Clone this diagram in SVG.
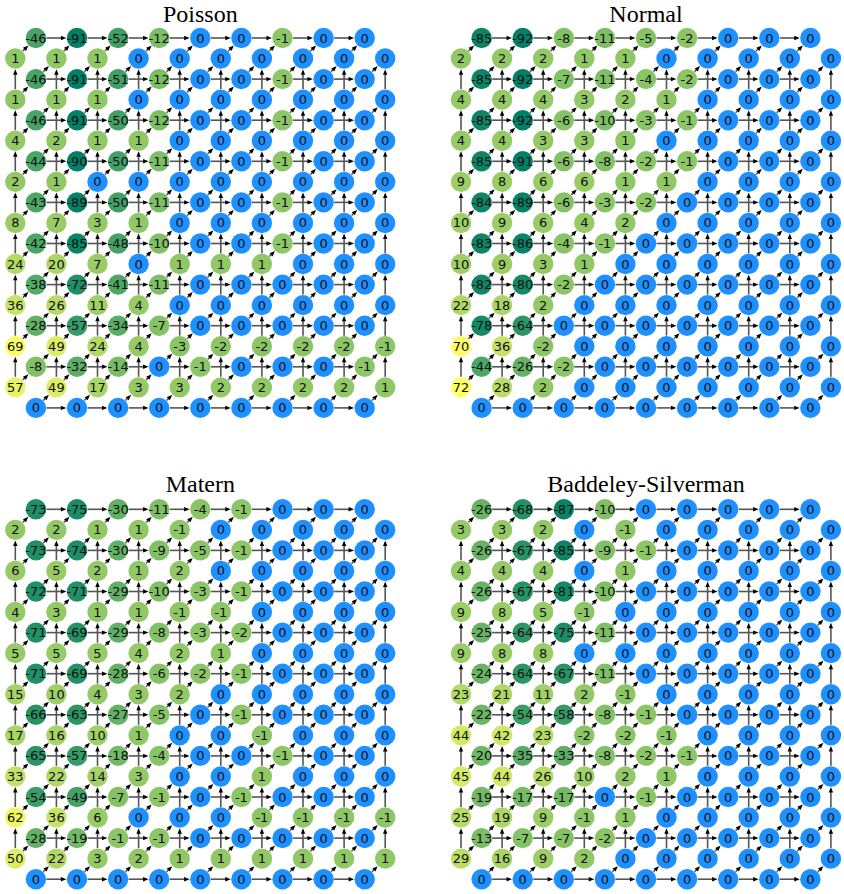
<svg xmlns="http://www.w3.org/2000/svg" xmlns:xlink="http://www.w3.org/1999/xlink" width="844" height="894" viewBox="0 0 844 894">
<style>
text{font-family:"DejaVu Sans","Liberation Sans",sans-serif;font-size:13px;text-anchor:middle;dominant-baseline:central;fill:#111}
text.t{font-family:"Liberation Serif","DejaVu Serif",serif;font-size:24px;dominant-baseline:auto;fill:#000}
circle{r:10.2px;stroke:none}
.z{fill:#1e90ff}
.m1{fill:#8dc666}.m2{fill:#8cc566}.m3{fill:#8ac566}.m4{fill:#89c466}.m5{fill:#87c366}.m6{fill:#86c266}.m7{fill:#84c266}.m8{fill:#83c166}.m9{fill:#81c066}.m10{fill:#80bf66}.m11{fill:#7ebe66}.m12{fill:#7cbe66}.m13{fill:#7bbd66}.m14{fill:#79bc66}.m17{fill:#75ba66}.m18{fill:#73b966}.m19{fill:#72b866}.m20{fill:#70b766}.m22{fill:#6db666}.m24{fill:#6ab466}.m25{fill:#68b466}.m26{fill:#67b366}.m27{fill:#65b266}.m28{fill:#64b166}.m29{fill:#62b066}.m30{fill:#60b066}.m32{fill:#5dae66}.m33{fill:#5cad66}.m34{fill:#5aad66}.m35{fill:#59ac66}.m38{fill:#54aa66}.m41{fill:#4fa766}.m42{fill:#4ea666}.m43{fill:#4ca666}.m44{fill:#4ba566}.m46{fill:#48a366}.m48{fill:#44a266}.m49{fill:#43a166}.m50{fill:#41a066}.m51{fill:#409f66}.m52{fill:#3e9f66}.m54{fill:#3b9d66}.m57{fill:#369b66}.m58{fill:#359a66}.m63{fill:#2d9666}.m64{fill:#2c9566}.m65{fill:#2a9466}.m66{fill:#289466}.m67{fill:#279366}.m68{fill:#259266}.m69{fill:#249166}.m71{fill:#219066}.m72{fill:#1f8f66}.m73{fill:#1e8e66}.m74{fill:#1c8d66}.m75{fill:#1a8d66}.m78{fill:#168a66}.m80{fill:#138966}.m81{fill:#118866}.m82{fill:#108766}.m83{fill:#0e8666}.m84{fill:#0c8666}.m85{fill:#0b8566}.m86{fill:#098466}.m87{fill:#088366}.m89{fill:#058266}.m90{fill:#038166}.m91{fill:#028066}.m92{fill:#008066}
.p1{fill:#91c866}.p2{fill:#92c966}.p3{fill:#94c966}.p4{fill:#95ca66}.p5{fill:#97cb66}.p6{fill:#98cc66}.p7{fill:#9acc66}.p8{fill:#9bcd66}.p9{fill:#9dce66}.p10{fill:#9fcf66}.p11{fill:#a0d066}.p14{fill:#a5d266}.p15{fill:#a6d366}.p16{fill:#a8d366}.p17{fill:#a9d466}.p18{fill:#abd566}.p19{fill:#add666}.p20{fill:#aed766}.p21{fill:#b0d766}.p22{fill:#b1d866}.p23{fill:#b3d966}.p24{fill:#b4da66}.p25{fill:#b6da66}.p26{fill:#b7db66}.p28{fill:#bbdd66}.p29{fill:#bcde66}.p33{fill:#c2e166}.p36{fill:#c7e366}.p42{fill:#d0e866}.p44{fill:#d3e966}.p45{fill:#d5ea66}.p49{fill:#dbed66}.p50{fill:#ddee66}.p57{fill:#e8f366}.p62{fill:#eff766}.p69{fill:#fafd66}.p70{fill:#fcfd66}.p72{fill:#ffff66}
</style>
<defs>
<marker id="ah" markerUnits="userSpaceOnUse" markerWidth="6" markerHeight="5" refX="0.7" refY="2.2" orient="auto" overflow="visible"><path d="M0,0L5.5,2.2L0,4.4z" fill="#000"/></marker>
<line id="eh" x1="10.6" y1="0" x2="25.7" y2="0" stroke="#555" stroke-width="1.6" marker-end="url(#ah)"/>
<line id="ev" x1="0" y1="-10.6" x2="0" y2="-25.7" stroke="#555" stroke-width="1.6" marker-end="url(#ah)"/>
<line id="ed" x1="7.5" y1="-7.5" x2="9.66" y2="-9.66" stroke="#555" stroke-width="1.6" marker-end="url(#ah)"/>
<g id="H"><use href="#eh" x="20.55"/><use href="#eh" x="61.65"/><use href="#eh" x="102.75"/><use href="#eh" x="143.85"/><use href="#eh" x="184.95"/><use href="#eh" x="226.05"/><use href="#eh" x="267.15"/><use href="#eh" x="308.25"/></g>
<g id="V"><use href="#ev" y="61.65"/><use href="#ev" y="102.75"/><use href="#ev" y="143.85"/><use href="#ev" y="184.95"/><use href="#ev" y="226.05"/><use href="#ev" y="267.15"/><use href="#ev" y="308.25"/><use href="#ev" y="349.35"/></g>
<g id="D"><use href="#ed" x="0"/><use href="#ed" x="41.1"/><use href="#ed" x="82.2"/><use href="#ed" x="123.3"/><use href="#ed" x="164.4"/><use href="#ed" x="205.5"/><use href="#ed" x="246.6"/><use href="#ed" x="287.7"/><use href="#ed" x="328.8"/></g>
<g id="E">
<use href="#H" y="0"/><use href="#H" y="41.1"/><use href="#H" y="82.2"/><use href="#H" y="123.3"/><use href="#H" y="164.4"/><use href="#H" y="205.5"/><use href="#H" y="246.6"/><use href="#H" y="287.7"/><use href="#H" y="328.8"/><use href="#H" y="369.9"/>
<use href="#V" x="0"/><use href="#V" x="41.1"/><use href="#V" x="82.2"/><use href="#V" x="123.3"/><use href="#V" x="164.4"/><use href="#V" x="205.5"/><use href="#V" x="246.6"/><use href="#V" x="287.7"/><use href="#V" x="328.8"/><use href="#V" x="369.9"/>
<use href="#D" y="20.55"/><use href="#D" y="61.65"/><use href="#D" y="102.75"/><use href="#D" y="143.85"/><use href="#D" y="184.95"/><use href="#D" y="226.05"/><use href="#D" y="267.15"/><use href="#D" y="308.25"/><use href="#D" y="349.35"/>
<use href="#D" x="20.55" y="41.1"/><use href="#D" x="20.55" y="82.2"/><use href="#D" x="20.55" y="123.3"/><use href="#D" x="20.55" y="164.4"/><use href="#D" x="20.55" y="205.5"/><use href="#D" x="20.55" y="246.6"/><use href="#D" x="20.55" y="287.7"/><use href="#D" x="20.55" y="328.8"/><use href="#D" x="20.55" y="369.9"/>
</g>
</defs>
<rect width="844" height="894" fill="#fff"/>
<g id="titles">
<text class="t" x="200.3" y="21.8">Poisson</text>
<text class="t" x="646" y="21.8">Normal</text>
<text class="t" x="200.3" y="491.5">Matern</text>
<text class="t" x="646" y="491.5">Baddeley-Silverman</text>
</g>
<g id="connectors">
<use href="#E" x="15.3" y="38"/>
<use href="#E" x="461" y="38"/>
<use href="#E" x="15.3" y="509.3"/>
<use href="#E" x="461" y="509.3"/>
</g>
<g id="poisson" transform="translate(15.3,38)">
<g transform="translate(0,0)"><g id="Pa0_0"><circle class="m46" cx="20.6"/><text x="20.6">-46</text></g><g id="Pa0_1"><circle class="m91" cx="61.7"/><text x="61.7">-91</text></g><g id="Pa0_2"><circle class="m52" cx="102.8"/><text x="102.8">-52</text></g><g id="Pa0_3"><circle class="m12" cx="143.9"/><text x="143.9">-12</text></g><g id="Pa0_4"><circle class="z" cx="185"/><text x="185">0</text></g><g id="Pa0_5"><circle class="z" cx="226.1"/><text x="226.1">0</text></g><g id="Pa0_6"><circle class="m1" cx="267.2"/><text x="267.2">-1</text></g><g id="Pa0_7"><circle class="z" cx="308.3"/><text x="308.3">0</text></g><g id="Pa0_8"><circle class="z" cx="349.4"/><text x="349.4">0</text></g></g>
<g transform="translate(0,20.55)"><g id="Pb0_0"><circle class="p1" cx="0"/><text x="0">1</text></g><g id="Pb0_1"><circle class="p1" cx="41.1"/><text x="41.1">1</text></g><g id="Pb0_2"><circle class="p1" cx="82.2"/><text x="82.2">1</text></g><g id="Pb0_3"><circle class="z" cx="123.3"/><text x="123.3">0</text></g><g id="Pb0_4"><circle class="z" cx="164.4"/><text x="164.4">0</text></g><g id="Pb0_5"><circle class="z" cx="205.5"/><text x="205.5">0</text></g><g id="Pb0_6"><circle class="z" cx="246.6"/><text x="246.6">0</text></g><g id="Pb0_7"><circle class="z" cx="287.7"/><text x="287.7">0</text></g><g id="Pb0_8"><circle class="z" cx="328.8"/><text x="328.8">0</text></g><g id="Pb0_9"><circle class="z" cx="369.9"/><text x="369.9">0</text></g></g>
<g transform="translate(0,41.1)"><g id="Pa1_0"><circle class="m46" cx="20.6"/><text x="20.6">-46</text></g><g id="Pa1_1"><circle class="m91" cx="61.7"/><text x="61.7">-91</text></g><g id="Pa1_2"><circle class="m51" cx="102.8"/><text x="102.8">-51</text></g><g id="Pa1_3"><circle class="m12" cx="143.9"/><text x="143.9">-12</text></g><g id="Pa1_4"><circle class="z" cx="185"/><text x="185">0</text></g><g id="Pa1_5"><circle class="z" cx="226.1"/><text x="226.1">0</text></g><g id="Pa1_6"><circle class="m1" cx="267.2"/><text x="267.2">-1</text></g><g id="Pa1_7"><circle class="z" cx="308.3"/><text x="308.3">0</text></g><g id="Pa1_8"><circle class="z" cx="349.4"/><text x="349.4">0</text></g></g>
<g transform="translate(0,61.65)"><g id="Pb1_0"><circle class="p1" cx="0"/><text x="0">1</text></g><g id="Pb1_1"><circle class="p1" cx="41.1"/><text x="41.1">1</text></g><g id="Pb1_2"><circle class="p1" cx="82.2"/><text x="82.2">1</text></g><g id="Pb1_3"><circle class="z" cx="123.3"/><text x="123.3">0</text></g><g id="Pb1_4"><circle class="z" cx="164.4"/><text x="164.4">0</text></g><g id="Pb1_5"><circle class="z" cx="205.5"/><text x="205.5">0</text></g><g id="Pb1_6"><circle class="z" cx="246.6"/><text x="246.6">0</text></g><g id="Pb1_7"><circle class="z" cx="287.7"/><text x="287.7">0</text></g><g id="Pb1_8"><circle class="z" cx="328.8"/><text x="328.8">0</text></g><g id="Pb1_9"><circle class="z" cx="369.9"/><text x="369.9">0</text></g></g>
<g transform="translate(0,82.2)"><g id="Pa2_0"><circle class="m46" cx="20.6"/><text x="20.6">-46</text></g><g id="Pa2_1"><circle class="m91" cx="61.7"/><text x="61.7">-91</text></g><g id="Pa2_2"><circle class="m50" cx="102.8"/><text x="102.8">-50</text></g><g id="Pa2_3"><circle class="m12" cx="143.9"/><text x="143.9">-12</text></g><g id="Pa2_4"><circle class="z" cx="185"/><text x="185">0</text></g><g id="Pa2_5"><circle class="z" cx="226.1"/><text x="226.1">0</text></g><g id="Pa2_6"><circle class="m1" cx="267.2"/><text x="267.2">-1</text></g><g id="Pa2_7"><circle class="z" cx="308.3"/><text x="308.3">0</text></g><g id="Pa2_8"><circle class="z" cx="349.4"/><text x="349.4">0</text></g></g>
<g transform="translate(0,102.75)"><g id="Pb2_0"><circle class="p4" cx="0"/><text x="0">4</text></g><g id="Pb2_1"><circle class="p2" cx="41.1"/><text x="41.1">2</text></g><g id="Pb2_2"><circle class="p1" cx="82.2"/><text x="82.2">1</text></g><g id="Pb2_3"><circle class="p1" cx="123.3"/><text x="123.3">1</text></g><g id="Pb2_4"><circle class="z" cx="164.4"/><text x="164.4">0</text></g><g id="Pb2_5"><circle class="z" cx="205.5"/><text x="205.5">0</text></g><g id="Pb2_6"><circle class="z" cx="246.6"/><text x="246.6">0</text></g><g id="Pb2_7"><circle class="z" cx="287.7"/><text x="287.7">0</text></g><g id="Pb2_8"><circle class="z" cx="328.8"/><text x="328.8">0</text></g><g id="Pb2_9"><circle class="z" cx="369.9"/><text x="369.9">0</text></g></g>
<g transform="translate(0,123.3)"><g id="Pa3_0"><circle class="m44" cx="20.6"/><text x="20.6">-44</text></g><g id="Pa3_1"><circle class="m90" cx="61.7"/><text x="61.7">-90</text></g><g id="Pa3_2"><circle class="m50" cx="102.8"/><text x="102.8">-50</text></g><g id="Pa3_3"><circle class="m11" cx="143.9"/><text x="143.9">-11</text></g><g id="Pa3_4"><circle class="z" cx="185"/><text x="185">0</text></g><g id="Pa3_5"><circle class="z" cx="226.1"/><text x="226.1">0</text></g><g id="Pa3_6"><circle class="m1" cx="267.2"/><text x="267.2">-1</text></g><g id="Pa3_7"><circle class="z" cx="308.3"/><text x="308.3">0</text></g><g id="Pa3_8"><circle class="z" cx="349.4"/><text x="349.4">0</text></g></g>
<g transform="translate(0,143.85)"><g id="Pb3_0"><circle class="p2" cx="0"/><text x="0">2</text></g><g id="Pb3_1"><circle class="p1" cx="41.1"/><text x="41.1">1</text></g><g id="Pb3_2"><circle class="z" cx="82.2"/><text x="82.2">0</text></g><g id="Pb3_3"><circle class="z" cx="123.3"/><text x="123.3">0</text></g><g id="Pb3_4"><circle class="z" cx="164.4"/><text x="164.4">0</text></g><g id="Pb3_5"><circle class="z" cx="205.5"/><text x="205.5">0</text></g><g id="Pb3_6"><circle class="z" cx="246.6"/><text x="246.6">0</text></g><g id="Pb3_7"><circle class="z" cx="287.7"/><text x="287.7">0</text></g><g id="Pb3_8"><circle class="z" cx="328.8"/><text x="328.8">0</text></g><g id="Pb3_9"><circle class="z" cx="369.9"/><text x="369.9">0</text></g></g>
<g transform="translate(0,164.4)"><g id="Pa4_0"><circle class="m43" cx="20.6"/><text x="20.6">-43</text></g><g id="Pa4_1"><circle class="m89" cx="61.7"/><text x="61.7">-89</text></g><g id="Pa4_2"><circle class="m50" cx="102.8"/><text x="102.8">-50</text></g><g id="Pa4_3"><circle class="m11" cx="143.9"/><text x="143.9">-11</text></g><g id="Pa4_4"><circle class="z" cx="185"/><text x="185">0</text></g><g id="Pa4_5"><circle class="z" cx="226.1"/><text x="226.1">0</text></g><g id="Pa4_6"><circle class="m1" cx="267.2"/><text x="267.2">-1</text></g><g id="Pa4_7"><circle class="z" cx="308.3"/><text x="308.3">0</text></g><g id="Pa4_8"><circle class="z" cx="349.4"/><text x="349.4">0</text></g></g>
<g transform="translate(0,184.95)"><g id="Pb4_0"><circle class="p8" cx="0"/><text x="0">8</text></g><g id="Pb4_1"><circle class="p7" cx="41.1"/><text x="41.1">7</text></g><g id="Pb4_2"><circle class="p3" cx="82.2"/><text x="82.2">3</text></g><g id="Pb4_3"><circle class="p1" cx="123.3"/><text x="123.3">1</text></g><g id="Pb4_4"><circle class="z" cx="164.4"/><text x="164.4">0</text></g><g id="Pb4_5"><circle class="z" cx="205.5"/><text x="205.5">0</text></g><g id="Pb4_6"><circle class="z" cx="246.6"/><text x="246.6">0</text></g><g id="Pb4_7"><circle class="z" cx="287.7"/><text x="287.7">0</text></g><g id="Pb4_8"><circle class="z" cx="328.8"/><text x="328.8">0</text></g><g id="Pb4_9"><circle class="z" cx="369.9"/><text x="369.9">0</text></g></g>
<g transform="translate(0,205.5)"><g id="Pa5_0"><circle class="m42" cx="20.6"/><text x="20.6">-42</text></g><g id="Pa5_1"><circle class="m85" cx="61.7"/><text x="61.7">-85</text></g><g id="Pa5_2"><circle class="m48" cx="102.8"/><text x="102.8">-48</text></g><g id="Pa5_3"><circle class="m10" cx="143.9"/><text x="143.9">-10</text></g><g id="Pa5_4"><circle class="z" cx="185"/><text x="185">0</text></g><g id="Pa5_5"><circle class="z" cx="226.1"/><text x="226.1">0</text></g><g id="Pa5_6"><circle class="m1" cx="267.2"/><text x="267.2">-1</text></g><g id="Pa5_7"><circle class="z" cx="308.3"/><text x="308.3">0</text></g><g id="Pa5_8"><circle class="z" cx="349.4"/><text x="349.4">0</text></g></g>
<g transform="translate(0,226.05)"><g id="Pb5_0"><circle class="p24" cx="0"/><text x="0">24</text></g><g id="Pb5_1"><circle class="p20" cx="41.1"/><text x="41.1">20</text></g><g id="Pb5_2"><circle class="p7" cx="82.2"/><text x="82.2">7</text></g><g id="Pb5_3"><circle class="z" cx="123.3"/><text x="123.3">0</text></g><g id="Pb5_4"><circle class="p1" cx="164.4"/><text x="164.4">1</text></g><g id="Pb5_5"><circle class="p1" cx="205.5"/><text x="205.5">1</text></g><g id="Pb5_6"><circle class="p1" cx="246.6"/><text x="246.6">1</text></g><g id="Pb5_7"><circle class="z" cx="287.7"/><text x="287.7">0</text></g><g id="Pb5_8"><circle class="z" cx="328.8"/><text x="328.8">0</text></g><g id="Pb5_9"><circle class="z" cx="369.9"/><text x="369.9">0</text></g></g>
<g transform="translate(0,246.6)"><g id="Pa6_0"><circle class="m38" cx="20.6"/><text x="20.6">-38</text></g><g id="Pa6_1"><circle class="m72" cx="61.7"/><text x="61.7">-72</text></g><g id="Pa6_2"><circle class="m41" cx="102.8"/><text x="102.8">-41</text></g><g id="Pa6_3"><circle class="m11" cx="143.9"/><text x="143.9">-11</text></g><g id="Pa6_4"><circle class="z" cx="185"/><text x="185">0</text></g><g id="Pa6_5"><circle class="z" cx="226.1"/><text x="226.1">0</text></g><g id="Pa6_6"><circle class="z" cx="267.2"/><text x="267.2">0</text></g><g id="Pa6_7"><circle class="z" cx="308.3"/><text x="308.3">0</text></g><g id="Pa6_8"><circle class="z" cx="349.4"/><text x="349.4">0</text></g></g>
<g transform="translate(0,267.15)"><g id="Pb6_0"><circle class="p36" cx="0"/><text x="0">36</text></g><g id="Pb6_1"><circle class="p26" cx="41.1"/><text x="41.1">26</text></g><g id="Pb6_2"><circle class="p11" cx="82.2"/><text x="82.2">11</text></g><g id="Pb6_3"><circle class="p4" cx="123.3"/><text x="123.3">4</text></g><g id="Pb6_4"><circle class="z" cx="164.4"/><text x="164.4">0</text></g><g id="Pb6_5"><circle class="z" cx="205.5"/><text x="205.5">0</text></g><g id="Pb6_6"><circle class="z" cx="246.6"/><text x="246.6">0</text></g><g id="Pb6_7"><circle class="z" cx="287.7"/><text x="287.7">0</text></g><g id="Pb6_8"><circle class="z" cx="328.8"/><text x="328.8">0</text></g><g id="Pb6_9"><circle class="z" cx="369.9"/><text x="369.9">0</text></g></g>
<g transform="translate(0,287.7)"><g id="Pa7_0"><circle class="m28" cx="20.6"/><text x="20.6">-28</text></g><g id="Pa7_1"><circle class="m57" cx="61.7"/><text x="61.7">-57</text></g><g id="Pa7_2"><circle class="m34" cx="102.8"/><text x="102.8">-34</text></g><g id="Pa7_3"><circle class="m7" cx="143.9"/><text x="143.9">-7</text></g><g id="Pa7_4"><circle class="z" cx="185"/><text x="185">0</text></g><g id="Pa7_5"><circle class="z" cx="226.1"/><text x="226.1">0</text></g><g id="Pa7_6"><circle class="z" cx="267.2"/><text x="267.2">0</text></g><g id="Pa7_7"><circle class="z" cx="308.3"/><text x="308.3">0</text></g><g id="Pa7_8"><circle class="z" cx="349.4"/><text x="349.4">0</text></g></g>
<g transform="translate(0,308.25)"><g id="Pb7_0"><circle class="p69" cx="0"/><text x="0">69</text></g><g id="Pb7_1"><circle class="p49" cx="41.1"/><text x="41.1">49</text></g><g id="Pb7_2"><circle class="p24" cx="82.2"/><text x="82.2">24</text></g><g id="Pb7_3"><circle class="p4" cx="123.3"/><text x="123.3">4</text></g><g id="Pb7_4"><circle class="m3" cx="164.4"/><text x="164.4">-3</text></g><g id="Pb7_5"><circle class="m2" cx="205.5"/><text x="205.5">-2</text></g><g id="Pb7_6"><circle class="m2" cx="246.6"/><text x="246.6">-2</text></g><g id="Pb7_7"><circle class="m2" cx="287.7"/><text x="287.7">-2</text></g><g id="Pb7_8"><circle class="m2" cx="328.8"/><text x="328.8">-2</text></g><g id="Pb7_9"><circle class="m1" cx="369.9"/><text x="369.9">-1</text></g></g>
<g transform="translate(0,328.8)"><g id="Pa8_0"><circle class="m8" cx="20.6"/><text x="20.6">-8</text></g><g id="Pa8_1"><circle class="m32" cx="61.7"/><text x="61.7">-32</text></g><g id="Pa8_2"><circle class="m14" cx="102.8"/><text x="102.8">-14</text></g><g id="Pa8_3"><circle class="z" cx="143.9"/><text x="143.9">0</text></g><g id="Pa8_4"><circle class="m1" cx="185"/><text x="185">-1</text></g><g id="Pa8_5"><circle class="z" cx="226.1"/><text x="226.1">0</text></g><g id="Pa8_6"><circle class="z" cx="267.2"/><text x="267.2">0</text></g><g id="Pa8_7"><circle class="z" cx="308.3"/><text x="308.3">0</text></g><g id="Pa8_8"><circle class="m1" cx="349.4"/><text x="349.4">-1</text></g></g>
<g transform="translate(0,349.35)"><g id="Pb8_0"><circle class="p57" cx="0"/><text x="0">57</text></g><g id="Pb8_1"><circle class="p49" cx="41.1"/><text x="41.1">49</text></g><g id="Pb8_2"><circle class="p17" cx="82.2"/><text x="82.2">17</text></g><g id="Pb8_3"><circle class="p3" cx="123.3"/><text x="123.3">3</text></g><g id="Pb8_4"><circle class="p3" cx="164.4"/><text x="164.4">3</text></g><g id="Pb8_5"><circle class="p2" cx="205.5"/><text x="205.5">2</text></g><g id="Pb8_6"><circle class="p2" cx="246.6"/><text x="246.6">2</text></g><g id="Pb8_7"><circle class="p2" cx="287.7"/><text x="287.7">2</text></g><g id="Pb8_8"><circle class="p2" cx="328.8"/><text x="328.8">2</text></g><g id="Pb8_9"><circle class="p1" cx="369.9"/><text x="369.9">1</text></g></g>
<g transform="translate(0,369.9)"><g id="Pa9_0"><circle class="z" cx="20.6"/><text x="20.6">0</text></g><g id="Pa9_1"><circle class="z" cx="61.7"/><text x="61.7">0</text></g><g id="Pa9_2"><circle class="z" cx="102.8"/><text x="102.8">0</text></g><g id="Pa9_3"><circle class="z" cx="143.9"/><text x="143.9">0</text></g><g id="Pa9_4"><circle class="z" cx="185"/><text x="185">0</text></g><g id="Pa9_5"><circle class="z" cx="226.1"/><text x="226.1">0</text></g><g id="Pa9_6"><circle class="z" cx="267.2"/><text x="267.2">0</text></g><g id="Pa9_7"><circle class="z" cx="308.3"/><text x="308.3">0</text></g><g id="Pa9_8"><circle class="z" cx="349.4"/><text x="349.4">0</text></g></g>
</g>
<g id="normal" transform="translate(461,38)">
<g transform="translate(0,0)"><g id="Na0_0"><circle class="m85" cx="20.6"/><text x="20.6">-85</text></g><g id="Na0_1"><circle class="m92" cx="61.7"/><text x="61.7">-92</text></g><g id="Na0_2"><circle class="m8" cx="102.8"/><text x="102.8">-8</text></g><g id="Na0_3"><circle class="m11" cx="143.9"/><text x="143.9">-11</text></g><g id="Na0_4"><circle class="m5" cx="185"/><text x="185">-5</text></g><g id="Na0_5"><circle class="m2" cx="226.1"/><text x="226.1">-2</text></g><g id="Na0_6"><circle class="z" cx="267.2"/><text x="267.2">0</text></g><g id="Na0_7"><circle class="z" cx="308.3"/><text x="308.3">0</text></g><g id="Na0_8"><circle class="z" cx="349.4"/><text x="349.4">0</text></g></g>
<g transform="translate(0,20.55)"><g id="Nb0_0"><circle class="p2" cx="0"/><text x="0">2</text></g><g id="Nb0_1"><circle class="p2" cx="41.1"/><text x="41.1">2</text></g><g id="Nb0_2"><circle class="p2" cx="82.2"/><text x="82.2">2</text></g><g id="Nb0_3"><circle class="p1" cx="123.3"/><text x="123.3">1</text></g><g id="Nb0_4"><circle class="p1" cx="164.4"/><text x="164.4">1</text></g><g id="Nb0_5"><circle class="z" cx="205.5"/><text x="205.5">0</text></g><g id="Nb0_6"><circle class="z" cx="246.6"/><text x="246.6">0</text></g><g id="Nb0_7"><circle class="z" cx="287.7"/><text x="287.7">0</text></g><g id="Nb0_8"><circle class="z" cx="328.8"/><text x="328.8">0</text></g><g id="Nb0_9"><circle class="z" cx="369.9"/><text x="369.9">0</text></g></g>
<g transform="translate(0,41.1)"><g id="Na1_0"><circle class="m85" cx="20.6"/><text x="20.6">-85</text></g><g id="Na1_1"><circle class="m92" cx="61.7"/><text x="61.7">-92</text></g><g id="Na1_2"><circle class="m7" cx="102.8"/><text x="102.8">-7</text></g><g id="Na1_3"><circle class="m11" cx="143.9"/><text x="143.9">-11</text></g><g id="Na1_4"><circle class="m4" cx="185"/><text x="185">-4</text></g><g id="Na1_5"><circle class="m2" cx="226.1"/><text x="226.1">-2</text></g><g id="Na1_6"><circle class="z" cx="267.2"/><text x="267.2">0</text></g><g id="Na1_7"><circle class="z" cx="308.3"/><text x="308.3">0</text></g><g id="Na1_8"><circle class="z" cx="349.4"/><text x="349.4">0</text></g></g>
<g transform="translate(0,61.65)"><g id="Nb1_0"><circle class="p4" cx="0"/><text x="0">4</text></g><g id="Nb1_1"><circle class="p4" cx="41.1"/><text x="41.1">4</text></g><g id="Nb1_2"><circle class="p4" cx="82.2"/><text x="82.2">4</text></g><g id="Nb1_3"><circle class="p3" cx="123.3"/><text x="123.3">3</text></g><g id="Nb1_4"><circle class="p2" cx="164.4"/><text x="164.4">2</text></g><g id="Nb1_5"><circle class="p1" cx="205.5"/><text x="205.5">1</text></g><g id="Nb1_6"><circle class="z" cx="246.6"/><text x="246.6">0</text></g><g id="Nb1_7"><circle class="z" cx="287.7"/><text x="287.7">0</text></g><g id="Nb1_8"><circle class="z" cx="328.8"/><text x="328.8">0</text></g><g id="Nb1_9"><circle class="z" cx="369.9"/><text x="369.9">0</text></g></g>
<g transform="translate(0,82.2)"><g id="Na2_0"><circle class="m85" cx="20.6"/><text x="20.6">-85</text></g><g id="Na2_1"><circle class="m92" cx="61.7"/><text x="61.7">-92</text></g><g id="Na2_2"><circle class="m6" cx="102.8"/><text x="102.8">-6</text></g><g id="Na2_3"><circle class="m10" cx="143.9"/><text x="143.9">-10</text></g><g id="Na2_4"><circle class="m3" cx="185"/><text x="185">-3</text></g><g id="Na2_5"><circle class="m1" cx="226.1"/><text x="226.1">-1</text></g><g id="Na2_6"><circle class="z" cx="267.2"/><text x="267.2">0</text></g><g id="Na2_7"><circle class="z" cx="308.3"/><text x="308.3">0</text></g><g id="Na2_8"><circle class="z" cx="349.4"/><text x="349.4">0</text></g></g>
<g transform="translate(0,102.75)"><g id="Nb2_0"><circle class="p4" cx="0"/><text x="0">4</text></g><g id="Nb2_1"><circle class="p4" cx="41.1"/><text x="41.1">4</text></g><g id="Nb2_2"><circle class="p3" cx="82.2"/><text x="82.2">3</text></g><g id="Nb2_3"><circle class="p3" cx="123.3"/><text x="123.3">3</text></g><g id="Nb2_4"><circle class="p1" cx="164.4"/><text x="164.4">1</text></g><g id="Nb2_5"><circle class="z" cx="205.5"/><text x="205.5">0</text></g><g id="Nb2_6"><circle class="z" cx="246.6"/><text x="246.6">0</text></g><g id="Nb2_7"><circle class="z" cx="287.7"/><text x="287.7">0</text></g><g id="Nb2_8"><circle class="z" cx="328.8"/><text x="328.8">0</text></g><g id="Nb2_9"><circle class="z" cx="369.9"/><text x="369.9">0</text></g></g>
<g transform="translate(0,123.3)"><g id="Na3_0"><circle class="m85" cx="20.6"/><text x="20.6">-85</text></g><g id="Na3_1"><circle class="m91" cx="61.7"/><text x="61.7">-91</text></g><g id="Na3_2"><circle class="m6" cx="102.8"/><text x="102.8">-6</text></g><g id="Na3_3"><circle class="m8" cx="143.9"/><text x="143.9">-8</text></g><g id="Na3_4"><circle class="m2" cx="185"/><text x="185">-2</text></g><g id="Na3_5"><circle class="m1" cx="226.1"/><text x="226.1">-1</text></g><g id="Na3_6"><circle class="z" cx="267.2"/><text x="267.2">0</text></g><g id="Na3_7"><circle class="z" cx="308.3"/><text x="308.3">0</text></g><g id="Na3_8"><circle class="z" cx="349.4"/><text x="349.4">0</text></g></g>
<g transform="translate(0,143.85)"><g id="Nb3_0"><circle class="p9" cx="0"/><text x="0">9</text></g><g id="Nb3_1"><circle class="p8" cx="41.1"/><text x="41.1">8</text></g><g id="Nb3_2"><circle class="p6" cx="82.2"/><text x="82.2">6</text></g><g id="Nb3_3"><circle class="p6" cx="123.3"/><text x="123.3">6</text></g><g id="Nb3_4"><circle class="p1" cx="164.4"/><text x="164.4">1</text></g><g id="Nb3_5"><circle class="p1" cx="205.5"/><text x="205.5">1</text></g><g id="Nb3_6"><circle class="z" cx="246.6"/><text x="246.6">0</text></g><g id="Nb3_7"><circle class="z" cx="287.7"/><text x="287.7">0</text></g><g id="Nb3_8"><circle class="z" cx="328.8"/><text x="328.8">0</text></g><g id="Nb3_9"><circle class="z" cx="369.9"/><text x="369.9">0</text></g></g>
<g transform="translate(0,164.4)"><g id="Na4_0"><circle class="m84" cx="20.6"/><text x="20.6">-84</text></g><g id="Na4_1"><circle class="m89" cx="61.7"/><text x="61.7">-89</text></g><g id="Na4_2"><circle class="m6" cx="102.8"/><text x="102.8">-6</text></g><g id="Na4_3"><circle class="m3" cx="143.9"/><text x="143.9">-3</text></g><g id="Na4_4"><circle class="m2" cx="185"/><text x="185">-2</text></g><g id="Na4_5"><circle class="z" cx="226.1"/><text x="226.1">0</text></g><g id="Na4_6"><circle class="z" cx="267.2"/><text x="267.2">0</text></g><g id="Na4_7"><circle class="z" cx="308.3"/><text x="308.3">0</text></g><g id="Na4_8"><circle class="z" cx="349.4"/><text x="349.4">0</text></g></g>
<g transform="translate(0,184.95)"><g id="Nb4_0"><circle class="p10" cx="0"/><text x="0">10</text></g><g id="Nb4_1"><circle class="p9" cx="41.1"/><text x="41.1">9</text></g><g id="Nb4_2"><circle class="p6" cx="82.2"/><text x="82.2">6</text></g><g id="Nb4_3"><circle class="p4" cx="123.3"/><text x="123.3">4</text></g><g id="Nb4_4"><circle class="p2" cx="164.4"/><text x="164.4">2</text></g><g id="Nb4_5"><circle class="z" cx="205.5"/><text x="205.5">0</text></g><g id="Nb4_6"><circle class="z" cx="246.6"/><text x="246.6">0</text></g><g id="Nb4_7"><circle class="z" cx="287.7"/><text x="287.7">0</text></g><g id="Nb4_8"><circle class="z" cx="328.8"/><text x="328.8">0</text></g><g id="Nb4_9"><circle class="z" cx="369.9"/><text x="369.9">0</text></g></g>
<g transform="translate(0,205.5)"><g id="Na5_0"><circle class="m83" cx="20.6"/><text x="20.6">-83</text></g><g id="Na5_1"><circle class="m86" cx="61.7"/><text x="61.7">-86</text></g><g id="Na5_2"><circle class="m4" cx="102.8"/><text x="102.8">-4</text></g><g id="Na5_3"><circle class="m1" cx="143.9"/><text x="143.9">-1</text></g><g id="Na5_4"><circle class="z" cx="185"/><text x="185">0</text></g><g id="Na5_5"><circle class="z" cx="226.1"/><text x="226.1">0</text></g><g id="Na5_6"><circle class="z" cx="267.2"/><text x="267.2">0</text></g><g id="Na5_7"><circle class="z" cx="308.3"/><text x="308.3">0</text></g><g id="Na5_8"><circle class="z" cx="349.4"/><text x="349.4">0</text></g></g>
<g transform="translate(0,226.05)"><g id="Nb5_0"><circle class="p10" cx="0"/><text x="0">10</text></g><g id="Nb5_1"><circle class="p9" cx="41.1"/><text x="41.1">9</text></g><g id="Nb5_2"><circle class="p3" cx="82.2"/><text x="82.2">3</text></g><g id="Nb5_3"><circle class="p1" cx="123.3"/><text x="123.3">1</text></g><g id="Nb5_4"><circle class="z" cx="164.4"/><text x="164.4">0</text></g><g id="Nb5_5"><circle class="z" cx="205.5"/><text x="205.5">0</text></g><g id="Nb5_6"><circle class="z" cx="246.6"/><text x="246.6">0</text></g><g id="Nb5_7"><circle class="z" cx="287.7"/><text x="287.7">0</text></g><g id="Nb5_8"><circle class="z" cx="328.8"/><text x="328.8">0</text></g><g id="Nb5_9"><circle class="z" cx="369.9"/><text x="369.9">0</text></g></g>
<g transform="translate(0,246.6)"><g id="Na6_0"><circle class="m82" cx="20.6"/><text x="20.6">-82</text></g><g id="Na6_1"><circle class="m80" cx="61.7"/><text x="61.7">-80</text></g><g id="Na6_2"><circle class="m2" cx="102.8"/><text x="102.8">-2</text></g><g id="Na6_3"><circle class="z" cx="143.9"/><text x="143.9">0</text></g><g id="Na6_4"><circle class="z" cx="185"/><text x="185">0</text></g><g id="Na6_5"><circle class="z" cx="226.1"/><text x="226.1">0</text></g><g id="Na6_6"><circle class="z" cx="267.2"/><text x="267.2">0</text></g><g id="Na6_7"><circle class="z" cx="308.3"/><text x="308.3">0</text></g><g id="Na6_8"><circle class="z" cx="349.4"/><text x="349.4">0</text></g></g>
<g transform="translate(0,267.15)"><g id="Nb6_0"><circle class="p22" cx="0"/><text x="0">22</text></g><g id="Nb6_1"><circle class="p18" cx="41.1"/><text x="41.1">18</text></g><g id="Nb6_2"><circle class="p2" cx="82.2"/><text x="82.2">2</text></g><g id="Nb6_3"><circle class="z" cx="123.3"/><text x="123.3">0</text></g><g id="Nb6_4"><circle class="z" cx="164.4"/><text x="164.4">0</text></g><g id="Nb6_5"><circle class="z" cx="205.5"/><text x="205.5">0</text></g><g id="Nb6_6"><circle class="z" cx="246.6"/><text x="246.6">0</text></g><g id="Nb6_7"><circle class="z" cx="287.7"/><text x="287.7">0</text></g><g id="Nb6_8"><circle class="z" cx="328.8"/><text x="328.8">0</text></g><g id="Nb6_9"><circle class="z" cx="369.9"/><text x="369.9">0</text></g></g>
<g transform="translate(0,287.7)"><g id="Na7_0"><circle class="m78" cx="20.6"/><text x="20.6">-78</text></g><g id="Na7_1"><circle class="m64" cx="61.7"/><text x="61.7">-64</text></g><g id="Na7_2"><circle class="z" cx="102.8"/><text x="102.8">0</text></g><g id="Na7_3"><circle class="z" cx="143.9"/><text x="143.9">0</text></g><g id="Na7_4"><circle class="z" cx="185"/><text x="185">0</text></g><g id="Na7_5"><circle class="z" cx="226.1"/><text x="226.1">0</text></g><g id="Na7_6"><circle class="z" cx="267.2"/><text x="267.2">0</text></g><g id="Na7_7"><circle class="z" cx="308.3"/><text x="308.3">0</text></g><g id="Na7_8"><circle class="z" cx="349.4"/><text x="349.4">0</text></g></g>
<g transform="translate(0,308.25)"><g id="Nb7_0"><circle class="p70" cx="0"/><text x="0">70</text></g><g id="Nb7_1"><circle class="p36" cx="41.1"/><text x="41.1">36</text></g><g id="Nb7_2"><circle class="m2" cx="82.2"/><text x="82.2">-2</text></g><g id="Nb7_3"><circle class="z" cx="123.3"/><text x="123.3">0</text></g><g id="Nb7_4"><circle class="z" cx="164.4"/><text x="164.4">0</text></g><g id="Nb7_5"><circle class="z" cx="205.5"/><text x="205.5">0</text></g><g id="Nb7_6"><circle class="z" cx="246.6"/><text x="246.6">0</text></g><g id="Nb7_7"><circle class="z" cx="287.7"/><text x="287.7">0</text></g><g id="Nb7_8"><circle class="z" cx="328.8"/><text x="328.8">0</text></g><g id="Nb7_9"><circle class="z" cx="369.9"/><text x="369.9">0</text></g></g>
<g transform="translate(0,328.8)"><g id="Na8_0"><circle class="m44" cx="20.6"/><text x="20.6">-44</text></g><g id="Na8_1"><circle class="m26" cx="61.7"/><text x="61.7">-26</text></g><g id="Na8_2"><circle class="m2" cx="102.8"/><text x="102.8">-2</text></g><g id="Na8_3"><circle class="z" cx="143.9"/><text x="143.9">0</text></g><g id="Na8_4"><circle class="z" cx="185"/><text x="185">0</text></g><g id="Na8_5"><circle class="z" cx="226.1"/><text x="226.1">0</text></g><g id="Na8_6"><circle class="z" cx="267.2"/><text x="267.2">0</text></g><g id="Na8_7"><circle class="z" cx="308.3"/><text x="308.3">0</text></g><g id="Na8_8"><circle class="z" cx="349.4"/><text x="349.4">0</text></g></g>
<g transform="translate(0,349.35)"><g id="Nb8_0"><circle class="p72" cx="0"/><text x="0">72</text></g><g id="Nb8_1"><circle class="p28" cx="41.1"/><text x="41.1">28</text></g><g id="Nb8_2"><circle class="p2" cx="82.2"/><text x="82.2">2</text></g><g id="Nb8_3"><circle class="z" cx="123.3"/><text x="123.3">0</text></g><g id="Nb8_4"><circle class="z" cx="164.4"/><text x="164.4">0</text></g><g id="Nb8_5"><circle class="z" cx="205.5"/><text x="205.5">0</text></g><g id="Nb8_6"><circle class="z" cx="246.6"/><text x="246.6">0</text></g><g id="Nb8_7"><circle class="z" cx="287.7"/><text x="287.7">0</text></g><g id="Nb8_8"><circle class="z" cx="328.8"/><text x="328.8">0</text></g><g id="Nb8_9"><circle class="z" cx="369.9"/><text x="369.9">0</text></g></g>
<g transform="translate(0,369.9)"><g id="Na9_0"><circle class="z" cx="20.6"/><text x="20.6">0</text></g><g id="Na9_1"><circle class="z" cx="61.7"/><text x="61.7">0</text></g><g id="Na9_2"><circle class="z" cx="102.8"/><text x="102.8">0</text></g><g id="Na9_3"><circle class="z" cx="143.9"/><text x="143.9">0</text></g><g id="Na9_4"><circle class="z" cx="185"/><text x="185">0</text></g><g id="Na9_5"><circle class="z" cx="226.1"/><text x="226.1">0</text></g><g id="Na9_6"><circle class="z" cx="267.2"/><text x="267.2">0</text></g><g id="Na9_7"><circle class="z" cx="308.3"/><text x="308.3">0</text></g><g id="Na9_8"><circle class="z" cx="349.4"/><text x="349.4">0</text></g></g>
</g>
<g id="matern" transform="translate(15.3,509.3)">
<g transform="translate(0,0)"><g id="Ma0_0"><circle class="m73" cx="20.6"/><text x="20.6">-73</text></g><g id="Ma0_1"><circle class="m75" cx="61.7"/><text x="61.7">-75</text></g><g id="Ma0_2"><circle class="m30" cx="102.8"/><text x="102.8">-30</text></g><g id="Ma0_3"><circle class="m11" cx="143.9"/><text x="143.9">-11</text></g><g id="Ma0_4"><circle class="m4" cx="185"/><text x="185">-4</text></g><g id="Ma0_5"><circle class="m1" cx="226.1"/><text x="226.1">-1</text></g><g id="Ma0_6"><circle class="z" cx="267.2"/><text x="267.2">0</text></g><g id="Ma0_7"><circle class="z" cx="308.3"/><text x="308.3">0</text></g><g id="Ma0_8"><circle class="z" cx="349.4"/><text x="349.4">0</text></g></g>
<g transform="translate(0,20.55)"><g id="Mb0_0"><circle class="p2" cx="0"/><text x="0">2</text></g><g id="Mb0_1"><circle class="p2" cx="41.1"/><text x="41.1">2</text></g><g id="Mb0_2"><circle class="p1" cx="82.2"/><text x="82.2">1</text></g><g id="Mb0_3"><circle class="p1" cx="123.3"/><text x="123.3">1</text></g><g id="Mb0_4"><circle class="m1" cx="164.4"/><text x="164.4">-1</text></g><g id="Mb0_5"><circle class="z" cx="205.5"/><text x="205.5">0</text></g><g id="Mb0_6"><circle class="z" cx="246.6"/><text x="246.6">0</text></g><g id="Mb0_7"><circle class="z" cx="287.7"/><text x="287.7">0</text></g><g id="Mb0_8"><circle class="z" cx="328.8"/><text x="328.8">0</text></g><g id="Mb0_9"><circle class="z" cx="369.9"/><text x="369.9">0</text></g></g>
<g transform="translate(0,41.1)"><g id="Ma1_0"><circle class="m73" cx="20.6"/><text x="20.6">-73</text></g><g id="Ma1_1"><circle class="m74" cx="61.7"/><text x="61.7">-74</text></g><g id="Ma1_2"><circle class="m30" cx="102.8"/><text x="102.8">-30</text></g><g id="Ma1_3"><circle class="m9" cx="143.9"/><text x="143.9">-9</text></g><g id="Ma1_4"><circle class="m5" cx="185"/><text x="185">-5</text></g><g id="Ma1_5"><circle class="m1" cx="226.1"/><text x="226.1">-1</text></g><g id="Ma1_6"><circle class="z" cx="267.2"/><text x="267.2">0</text></g><g id="Ma1_7"><circle class="z" cx="308.3"/><text x="308.3">0</text></g><g id="Ma1_8"><circle class="z" cx="349.4"/><text x="349.4">0</text></g></g>
<g transform="translate(0,61.65)"><g id="Mb1_0"><circle class="p6" cx="0"/><text x="0">6</text></g><g id="Mb1_1"><circle class="p5" cx="41.1"/><text x="41.1">5</text></g><g id="Mb1_2"><circle class="p2" cx="82.2"/><text x="82.2">2</text></g><g id="Mb1_3"><circle class="p1" cx="123.3"/><text x="123.3">1</text></g><g id="Mb1_4"><circle class="p2" cx="164.4"/><text x="164.4">2</text></g><g id="Mb1_5"><circle class="z" cx="205.5"/><text x="205.5">0</text></g><g id="Mb1_6"><circle class="z" cx="246.6"/><text x="246.6">0</text></g><g id="Mb1_7"><circle class="z" cx="287.7"/><text x="287.7">0</text></g><g id="Mb1_8"><circle class="z" cx="328.8"/><text x="328.8">0</text></g><g id="Mb1_9"><circle class="z" cx="369.9"/><text x="369.9">0</text></g></g>
<g transform="translate(0,82.2)"><g id="Ma2_0"><circle class="m72" cx="20.6"/><text x="20.6">-72</text></g><g id="Ma2_1"><circle class="m71" cx="61.7"/><text x="61.7">-71</text></g><g id="Ma2_2"><circle class="m29" cx="102.8"/><text x="102.8">-29</text></g><g id="Ma2_3"><circle class="m10" cx="143.9"/><text x="143.9">-10</text></g><g id="Ma2_4"><circle class="m3" cx="185"/><text x="185">-3</text></g><g id="Ma2_5"><circle class="m1" cx="226.1"/><text x="226.1">-1</text></g><g id="Ma2_6"><circle class="z" cx="267.2"/><text x="267.2">0</text></g><g id="Ma2_7"><circle class="z" cx="308.3"/><text x="308.3">0</text></g><g id="Ma2_8"><circle class="z" cx="349.4"/><text x="349.4">0</text></g></g>
<g transform="translate(0,102.75)"><g id="Mb2_0"><circle class="p4" cx="0"/><text x="0">4</text></g><g id="Mb2_1"><circle class="p3" cx="41.1"/><text x="41.1">3</text></g><g id="Mb2_2"><circle class="p1" cx="82.2"/><text x="82.2">1</text></g><g id="Mb2_3"><circle class="p1" cx="123.3"/><text x="123.3">1</text></g><g id="Mb2_4"><circle class="m1" cx="164.4"/><text x="164.4">-1</text></g><g id="Mb2_5"><circle class="m1" cx="205.5"/><text x="205.5">-1</text></g><g id="Mb2_6"><circle class="z" cx="246.6"/><text x="246.6">0</text></g><g id="Mb2_7"><circle class="z" cx="287.7"/><text x="287.7">0</text></g><g id="Mb2_8"><circle class="z" cx="328.8"/><text x="328.8">0</text></g><g id="Mb2_9"><circle class="z" cx="369.9"/><text x="369.9">0</text></g></g>
<g transform="translate(0,123.3)"><g id="Ma3_0"><circle class="m71" cx="20.6"/><text x="20.6">-71</text></g><g id="Ma3_1"><circle class="m69" cx="61.7"/><text x="61.7">-69</text></g><g id="Ma3_2"><circle class="m29" cx="102.8"/><text x="102.8">-29</text></g><g id="Ma3_3"><circle class="m8" cx="143.9"/><text x="143.9">-8</text></g><g id="Ma3_4"><circle class="m3" cx="185"/><text x="185">-3</text></g><g id="Ma3_5"><circle class="m2" cx="226.1"/><text x="226.1">-2</text></g><g id="Ma3_6"><circle class="z" cx="267.2"/><text x="267.2">0</text></g><g id="Ma3_7"><circle class="z" cx="308.3"/><text x="308.3">0</text></g><g id="Ma3_8"><circle class="z" cx="349.4"/><text x="349.4">0</text></g></g>
<g transform="translate(0,143.85)"><g id="Mb3_0"><circle class="p5" cx="0"/><text x="0">5</text></g><g id="Mb3_1"><circle class="p5" cx="41.1"/><text x="41.1">5</text></g><g id="Mb3_2"><circle class="p5" cx="82.2"/><text x="82.2">5</text></g><g id="Mb3_3"><circle class="p4" cx="123.3"/><text x="123.3">4</text></g><g id="Mb3_4"><circle class="p2" cx="164.4"/><text x="164.4">2</text></g><g id="Mb3_5"><circle class="p1" cx="205.5"/><text x="205.5">1</text></g><g id="Mb3_6"><circle class="z" cx="246.6"/><text x="246.6">0</text></g><g id="Mb3_7"><circle class="z" cx="287.7"/><text x="287.7">0</text></g><g id="Mb3_8"><circle class="z" cx="328.8"/><text x="328.8">0</text></g><g id="Mb3_9"><circle class="z" cx="369.9"/><text x="369.9">0</text></g></g>
<g transform="translate(0,164.4)"><g id="Ma4_0"><circle class="m71" cx="20.6"/><text x="20.6">-71</text></g><g id="Ma4_1"><circle class="m69" cx="61.7"/><text x="61.7">-69</text></g><g id="Ma4_2"><circle class="m28" cx="102.8"/><text x="102.8">-28</text></g><g id="Ma4_3"><circle class="m6" cx="143.9"/><text x="143.9">-6</text></g><g id="Ma4_4"><circle class="m2" cx="185"/><text x="185">-2</text></g><g id="Ma4_5"><circle class="m1" cx="226.1"/><text x="226.1">-1</text></g><g id="Ma4_6"><circle class="z" cx="267.2"/><text x="267.2">0</text></g><g id="Ma4_7"><circle class="z" cx="308.3"/><text x="308.3">0</text></g><g id="Ma4_8"><circle class="z" cx="349.4"/><text x="349.4">0</text></g></g>
<g transform="translate(0,184.95)"><g id="Mb4_0"><circle class="p15" cx="0"/><text x="0">15</text></g><g id="Mb4_1"><circle class="p10" cx="41.1"/><text x="41.1">10</text></g><g id="Mb4_2"><circle class="p4" cx="82.2"/><text x="82.2">4</text></g><g id="Mb4_3"><circle class="p3" cx="123.3"/><text x="123.3">3</text></g><g id="Mb4_4"><circle class="p2" cx="164.4"/><text x="164.4">2</text></g><g id="Mb4_5"><circle class="z" cx="205.5"/><text x="205.5">0</text></g><g id="Mb4_6"><circle class="z" cx="246.6"/><text x="246.6">0</text></g><g id="Mb4_7"><circle class="z" cx="287.7"/><text x="287.7">0</text></g><g id="Mb4_8"><circle class="z" cx="328.8"/><text x="328.8">0</text></g><g id="Mb4_9"><circle class="z" cx="369.9"/><text x="369.9">0</text></g></g>
<g transform="translate(0,205.5)"><g id="Ma5_0"><circle class="m66" cx="20.6"/><text x="20.6">-66</text></g><g id="Ma5_1"><circle class="m63" cx="61.7"/><text x="61.7">-63</text></g><g id="Ma5_2"><circle class="m27" cx="102.8"/><text x="102.8">-27</text></g><g id="Ma5_3"><circle class="m5" cx="143.9"/><text x="143.9">-5</text></g><g id="Ma5_4"><circle class="z" cx="185"/><text x="185">0</text></g><g id="Ma5_5"><circle class="m1" cx="226.1"/><text x="226.1">-1</text></g><g id="Ma5_6"><circle class="z" cx="267.2"/><text x="267.2">0</text></g><g id="Ma5_7"><circle class="z" cx="308.3"/><text x="308.3">0</text></g><g id="Ma5_8"><circle class="z" cx="349.4"/><text x="349.4">0</text></g></g>
<g transform="translate(0,226.05)"><g id="Mb5_0"><circle class="p17" cx="0"/><text x="0">17</text></g><g id="Mb5_1"><circle class="p16" cx="41.1"/><text x="41.1">16</text></g><g id="Mb5_2"><circle class="p10" cx="82.2"/><text x="82.2">10</text></g><g id="Mb5_3"><circle class="p1" cx="123.3"/><text x="123.3">1</text></g><g id="Mb5_4"><circle class="z" cx="164.4"/><text x="164.4">0</text></g><g id="Mb5_5"><circle class="z" cx="205.5"/><text x="205.5">0</text></g><g id="Mb5_6"><circle class="m1" cx="246.6"/><text x="246.6">-1</text></g><g id="Mb5_7"><circle class="z" cx="287.7"/><text x="287.7">0</text></g><g id="Mb5_8"><circle class="z" cx="328.8"/><text x="328.8">0</text></g><g id="Mb5_9"><circle class="z" cx="369.9"/><text x="369.9">0</text></g></g>
<g transform="translate(0,246.6)"><g id="Ma6_0"><circle class="m65" cx="20.6"/><text x="20.6">-65</text></g><g id="Ma6_1"><circle class="m57" cx="61.7"/><text x="61.7">-57</text></g><g id="Ma6_2"><circle class="m18" cx="102.8"/><text x="102.8">-18</text></g><g id="Ma6_3"><circle class="m4" cx="143.9"/><text x="143.9">-4</text></g><g id="Ma6_4"><circle class="z" cx="185"/><text x="185">0</text></g><g id="Ma6_5"><circle class="z" cx="226.1"/><text x="226.1">0</text></g><g id="Ma6_6"><circle class="m1" cx="267.2"/><text x="267.2">-1</text></g><g id="Ma6_7"><circle class="z" cx="308.3"/><text x="308.3">0</text></g><g id="Ma6_8"><circle class="z" cx="349.4"/><text x="349.4">0</text></g></g>
<g transform="translate(0,267.15)"><g id="Mb6_0"><circle class="p33" cx="0"/><text x="0">33</text></g><g id="Mb6_1"><circle class="p22" cx="41.1"/><text x="41.1">22</text></g><g id="Mb6_2"><circle class="p14" cx="82.2"/><text x="82.2">14</text></g><g id="Mb6_3"><circle class="p3" cx="123.3"/><text x="123.3">3</text></g><g id="Mb6_4"><circle class="z" cx="164.4"/><text x="164.4">0</text></g><g id="Mb6_5"><circle class="z" cx="205.5"/><text x="205.5">0</text></g><g id="Mb6_6"><circle class="p1" cx="246.6"/><text x="246.6">1</text></g><g id="Mb6_7"><circle class="z" cx="287.7"/><text x="287.7">0</text></g><g id="Mb6_8"><circle class="z" cx="328.8"/><text x="328.8">0</text></g><g id="Mb6_9"><circle class="z" cx="369.9"/><text x="369.9">0</text></g></g>
<g transform="translate(0,287.7)"><g id="Ma7_0"><circle class="m54" cx="20.6"/><text x="20.6">-54</text></g><g id="Ma7_1"><circle class="m49" cx="61.7"/><text x="61.7">-49</text></g><g id="Ma7_2"><circle class="m7" cx="102.8"/><text x="102.8">-7</text></g><g id="Ma7_3"><circle class="m1" cx="143.9"/><text x="143.9">-1</text></g><g id="Ma7_4"><circle class="z" cx="185"/><text x="185">0</text></g><g id="Ma7_5"><circle class="m1" cx="226.1"/><text x="226.1">-1</text></g><g id="Ma7_6"><circle class="z" cx="267.2"/><text x="267.2">0</text></g><g id="Ma7_7"><circle class="z" cx="308.3"/><text x="308.3">0</text></g><g id="Ma7_8"><circle class="z" cx="349.4"/><text x="349.4">0</text></g></g>
<g transform="translate(0,308.25)"><g id="Mb7_0"><circle class="p62" cx="0"/><text x="0">62</text></g><g id="Mb7_1"><circle class="p36" cx="41.1"/><text x="41.1">36</text></g><g id="Mb7_2"><circle class="p6" cx="82.2"/><text x="82.2">6</text></g><g id="Mb7_3"><circle class="z" cx="123.3"/><text x="123.3">0</text></g><g id="Mb7_4"><circle class="z" cx="164.4"/><text x="164.4">0</text></g><g id="Mb7_5"><circle class="z" cx="205.5"/><text x="205.5">0</text></g><g id="Mb7_6"><circle class="m1" cx="246.6"/><text x="246.6">-1</text></g><g id="Mb7_7"><circle class="m1" cx="287.7"/><text x="287.7">-1</text></g><g id="Mb7_8"><circle class="m1" cx="328.8"/><text x="328.8">-1</text></g><g id="Mb7_9"><circle class="m1" cx="369.9"/><text x="369.9">-1</text></g></g>
<g transform="translate(0,328.8)"><g id="Ma8_0"><circle class="m28" cx="20.6"/><text x="20.6">-28</text></g><g id="Ma8_1"><circle class="m19" cx="61.7"/><text x="61.7">-19</text></g><g id="Ma8_2"><circle class="m1" cx="102.8"/><text x="102.8">-1</text></g><g id="Ma8_3"><circle class="m1" cx="143.9"/><text x="143.9">-1</text></g><g id="Ma8_4"><circle class="z" cx="185"/><text x="185">0</text></g><g id="Ma8_5"><circle class="z" cx="226.1"/><text x="226.1">0</text></g><g id="Ma8_6"><circle class="z" cx="267.2"/><text x="267.2">0</text></g><g id="Ma8_7"><circle class="z" cx="308.3"/><text x="308.3">0</text></g><g id="Ma8_8"><circle class="z" cx="349.4"/><text x="349.4">0</text></g></g>
<g transform="translate(0,349.35)"><g id="Mb8_0"><circle class="p50" cx="0"/><text x="0">50</text></g><g id="Mb8_1"><circle class="p22" cx="41.1"/><text x="41.1">22</text></g><g id="Mb8_2"><circle class="p3" cx="82.2"/><text x="82.2">3</text></g><g id="Mb8_3"><circle class="p2" cx="123.3"/><text x="123.3">2</text></g><g id="Mb8_4"><circle class="p1" cx="164.4"/><text x="164.4">1</text></g><g id="Mb8_5"><circle class="p1" cx="205.5"/><text x="205.5">1</text></g><g id="Mb8_6"><circle class="p1" cx="246.6"/><text x="246.6">1</text></g><g id="Mb8_7"><circle class="p1" cx="287.7"/><text x="287.7">1</text></g><g id="Mb8_8"><circle class="p1" cx="328.8"/><text x="328.8">1</text></g><g id="Mb8_9"><circle class="p1" cx="369.9"/><text x="369.9">1</text></g></g>
<g transform="translate(0,369.9)"><g id="Ma9_0"><circle class="z" cx="20.6"/><text x="20.6">0</text></g><g id="Ma9_1"><circle class="z" cx="61.7"/><text x="61.7">0</text></g><g id="Ma9_2"><circle class="z" cx="102.8"/><text x="102.8">0</text></g><g id="Ma9_3"><circle class="z" cx="143.9"/><text x="143.9">0</text></g><g id="Ma9_4"><circle class="z" cx="185"/><text x="185">0</text></g><g id="Ma9_5"><circle class="z" cx="226.1"/><text x="226.1">0</text></g><g id="Ma9_6"><circle class="z" cx="267.2"/><text x="267.2">0</text></g><g id="Ma9_7"><circle class="z" cx="308.3"/><text x="308.3">0</text></g><g id="Ma9_8"><circle class="z" cx="349.4"/><text x="349.4">0</text></g></g>
</g>
<g id="baddeley-silverman" transform="translate(461,509.3)">
<g transform="translate(0,0)"><g id="Sa0_0"><circle class="m26" cx="20.6"/><text x="20.6">-26</text></g><g id="Sa0_1"><circle class="m68" cx="61.7"/><text x="61.7">-68</text></g><g id="Sa0_2"><circle class="m87" cx="102.8"/><text x="102.8">-87</text></g><g id="Sa0_3"><circle class="m10" cx="143.9"/><text x="143.9">-10</text></g><g id="Sa0_4"><circle class="z" cx="185"/><text x="185">0</text></g><g id="Sa0_5"><circle class="z" cx="226.1"/><text x="226.1">0</text></g><g id="Sa0_6"><circle class="z" cx="267.2"/><text x="267.2">0</text></g><g id="Sa0_7"><circle class="z" cx="308.3"/><text x="308.3">0</text></g><g id="Sa0_8"><circle class="z" cx="349.4"/><text x="349.4">0</text></g></g>
<g transform="translate(0,20.55)"><g id="Sb0_0"><circle class="p3" cx="0"/><text x="0">3</text></g><g id="Sb0_1"><circle class="p3" cx="41.1"/><text x="41.1">3</text></g><g id="Sb0_2"><circle class="p2" cx="82.2"/><text x="82.2">2</text></g><g id="Sb0_3"><circle class="z" cx="123.3"/><text x="123.3">0</text></g><g id="Sb0_4"><circle class="m1" cx="164.4"/><text x="164.4">-1</text></g><g id="Sb0_5"><circle class="z" cx="205.5"/><text x="205.5">0</text></g><g id="Sb0_6"><circle class="z" cx="246.6"/><text x="246.6">0</text></g><g id="Sb0_7"><circle class="z" cx="287.7"/><text x="287.7">0</text></g><g id="Sb0_8"><circle class="z" cx="328.8"/><text x="328.8">0</text></g><g id="Sb0_9"><circle class="z" cx="369.9"/><text x="369.9">0</text></g></g>
<g transform="translate(0,41.1)"><g id="Sa1_0"><circle class="m26" cx="20.6"/><text x="20.6">-26</text></g><g id="Sa1_1"><circle class="m67" cx="61.7"/><text x="61.7">-67</text></g><g id="Sa1_2"><circle class="m85" cx="102.8"/><text x="102.8">-85</text></g><g id="Sa1_3"><circle class="m9" cx="143.9"/><text x="143.9">-9</text></g><g id="Sa1_4"><circle class="m1" cx="185"/><text x="185">-1</text></g><g id="Sa1_5"><circle class="z" cx="226.1"/><text x="226.1">0</text></g><g id="Sa1_6"><circle class="z" cx="267.2"/><text x="267.2">0</text></g><g id="Sa1_7"><circle class="z" cx="308.3"/><text x="308.3">0</text></g><g id="Sa1_8"><circle class="z" cx="349.4"/><text x="349.4">0</text></g></g>
<g transform="translate(0,61.65)"><g id="Sb1_0"><circle class="p4" cx="0"/><text x="0">4</text></g><g id="Sb1_1"><circle class="p4" cx="41.1"/><text x="41.1">4</text></g><g id="Sb1_2"><circle class="p4" cx="82.2"/><text x="82.2">4</text></g><g id="Sb1_3"><circle class="z" cx="123.3"/><text x="123.3">0</text></g><g id="Sb1_4"><circle class="p1" cx="164.4"/><text x="164.4">1</text></g><g id="Sb1_5"><circle class="z" cx="205.5"/><text x="205.5">0</text></g><g id="Sb1_6"><circle class="z" cx="246.6"/><text x="246.6">0</text></g><g id="Sb1_7"><circle class="z" cx="287.7"/><text x="287.7">0</text></g><g id="Sb1_8"><circle class="z" cx="328.8"/><text x="328.8">0</text></g><g id="Sb1_9"><circle class="z" cx="369.9"/><text x="369.9">0</text></g></g>
<g transform="translate(0,82.2)"><g id="Sa2_0"><circle class="m26" cx="20.6"/><text x="20.6">-26</text></g><g id="Sa2_1"><circle class="m67" cx="61.7"/><text x="61.7">-67</text></g><g id="Sa2_2"><circle class="m81" cx="102.8"/><text x="102.8">-81</text></g><g id="Sa2_3"><circle class="m10" cx="143.9"/><text x="143.9">-10</text></g><g id="Sa2_4"><circle class="z" cx="185"/><text x="185">0</text></g><g id="Sa2_5"><circle class="z" cx="226.1"/><text x="226.1">0</text></g><g id="Sa2_6"><circle class="z" cx="267.2"/><text x="267.2">0</text></g><g id="Sa2_7"><circle class="z" cx="308.3"/><text x="308.3">0</text></g><g id="Sa2_8"><circle class="z" cx="349.4"/><text x="349.4">0</text></g></g>
<g transform="translate(0,102.75)"><g id="Sb2_0"><circle class="p9" cx="0"/><text x="0">9</text></g><g id="Sb2_1"><circle class="p8" cx="41.1"/><text x="41.1">8</text></g><g id="Sb2_2"><circle class="p5" cx="82.2"/><text x="82.2">5</text></g><g id="Sb2_3"><circle class="m1" cx="123.3"/><text x="123.3">-1</text></g><g id="Sb2_4"><circle class="z" cx="164.4"/><text x="164.4">0</text></g><g id="Sb2_5"><circle class="z" cx="205.5"/><text x="205.5">0</text></g><g id="Sb2_6"><circle class="z" cx="246.6"/><text x="246.6">0</text></g><g id="Sb2_7"><circle class="z" cx="287.7"/><text x="287.7">0</text></g><g id="Sb2_8"><circle class="z" cx="328.8"/><text x="328.8">0</text></g><g id="Sb2_9"><circle class="z" cx="369.9"/><text x="369.9">0</text></g></g>
<g transform="translate(0,123.3)"><g id="Sa3_0"><circle class="m25" cx="20.6"/><text x="20.6">-25</text></g><g id="Sa3_1"><circle class="m64" cx="61.7"/><text x="61.7">-64</text></g><g id="Sa3_2"><circle class="m75" cx="102.8"/><text x="102.8">-75</text></g><g id="Sa3_3"><circle class="m11" cx="143.9"/><text x="143.9">-11</text></g><g id="Sa3_4"><circle class="z" cx="185"/><text x="185">0</text></g><g id="Sa3_5"><circle class="z" cx="226.1"/><text x="226.1">0</text></g><g id="Sa3_6"><circle class="z" cx="267.2"/><text x="267.2">0</text></g><g id="Sa3_7"><circle class="z" cx="308.3"/><text x="308.3">0</text></g><g id="Sa3_8"><circle class="z" cx="349.4"/><text x="349.4">0</text></g></g>
<g transform="translate(0,143.85)"><g id="Sb3_0"><circle class="p9" cx="0"/><text x="0">9</text></g><g id="Sb3_1"><circle class="p8" cx="41.1"/><text x="41.1">8</text></g><g id="Sb3_2"><circle class="p8" cx="82.2"/><text x="82.2">8</text></g><g id="Sb3_3"><circle class="z" cx="123.3"/><text x="123.3">0</text></g><g id="Sb3_4"><circle class="z" cx="164.4"/><text x="164.4">0</text></g><g id="Sb3_5"><circle class="z" cx="205.5"/><text x="205.5">0</text></g><g id="Sb3_6"><circle class="z" cx="246.6"/><text x="246.6">0</text></g><g id="Sb3_7"><circle class="z" cx="287.7"/><text x="287.7">0</text></g><g id="Sb3_8"><circle class="z" cx="328.8"/><text x="328.8">0</text></g><g id="Sb3_9"><circle class="z" cx="369.9"/><text x="369.9">0</text></g></g>
<g transform="translate(0,164.4)"><g id="Sa4_0"><circle class="m24" cx="20.6"/><text x="20.6">-24</text></g><g id="Sa4_1"><circle class="m64" cx="61.7"/><text x="61.7">-64</text></g><g id="Sa4_2"><circle class="m67" cx="102.8"/><text x="102.8">-67</text></g><g id="Sa4_3"><circle class="m11" cx="143.9"/><text x="143.9">-11</text></g><g id="Sa4_4"><circle class="z" cx="185"/><text x="185">0</text></g><g id="Sa4_5"><circle class="z" cx="226.1"/><text x="226.1">0</text></g><g id="Sa4_6"><circle class="z" cx="267.2"/><text x="267.2">0</text></g><g id="Sa4_7"><circle class="z" cx="308.3"/><text x="308.3">0</text></g><g id="Sa4_8"><circle class="z" cx="349.4"/><text x="349.4">0</text></g></g>
<g transform="translate(0,184.95)"><g id="Sb4_0"><circle class="p23" cx="0"/><text x="0">23</text></g><g id="Sb4_1"><circle class="p21" cx="41.1"/><text x="41.1">21</text></g><g id="Sb4_2"><circle class="p11" cx="82.2"/><text x="82.2">11</text></g><g id="Sb4_3"><circle class="p2" cx="123.3"/><text x="123.3">2</text></g><g id="Sb4_4"><circle class="m1" cx="164.4"/><text x="164.4">-1</text></g><g id="Sb4_5"><circle class="z" cx="205.5"/><text x="205.5">0</text></g><g id="Sb4_6"><circle class="z" cx="246.6"/><text x="246.6">0</text></g><g id="Sb4_7"><circle class="z" cx="287.7"/><text x="287.7">0</text></g><g id="Sb4_8"><circle class="z" cx="328.8"/><text x="328.8">0</text></g><g id="Sb4_9"><circle class="z" cx="369.9"/><text x="369.9">0</text></g></g>
<g transform="translate(0,205.5)"><g id="Sa5_0"><circle class="m22" cx="20.6"/><text x="20.6">-22</text></g><g id="Sa5_1"><circle class="m54" cx="61.7"/><text x="61.7">-54</text></g><g id="Sa5_2"><circle class="m58" cx="102.8"/><text x="102.8">-58</text></g><g id="Sa5_3"><circle class="m8" cx="143.9"/><text x="143.9">-8</text></g><g id="Sa5_4"><circle class="m1" cx="185"/><text x="185">-1</text></g><g id="Sa5_5"><circle class="z" cx="226.1"/><text x="226.1">0</text></g><g id="Sa5_6"><circle class="z" cx="267.2"/><text x="267.2">0</text></g><g id="Sa5_7"><circle class="z" cx="308.3"/><text x="308.3">0</text></g><g id="Sa5_8"><circle class="z" cx="349.4"/><text x="349.4">0</text></g></g>
<g transform="translate(0,226.05)"><g id="Sb5_0"><circle class="p44" cx="0"/><text x="0">44</text></g><g id="Sb5_1"><circle class="p42" cx="41.1"/><text x="41.1">42</text></g><g id="Sb5_2"><circle class="p23" cx="82.2"/><text x="82.2">23</text></g><g id="Sb5_3"><circle class="m2" cx="123.3"/><text x="123.3">-2</text></g><g id="Sb5_4"><circle class="m2" cx="164.4"/><text x="164.4">-2</text></g><g id="Sb5_5"><circle class="m1" cx="205.5"/><text x="205.5">-1</text></g><g id="Sb5_6"><circle class="z" cx="246.6"/><text x="246.6">0</text></g><g id="Sb5_7"><circle class="z" cx="287.7"/><text x="287.7">0</text></g><g id="Sb5_8"><circle class="z" cx="328.8"/><text x="328.8">0</text></g><g id="Sb5_9"><circle class="z" cx="369.9"/><text x="369.9">0</text></g></g>
<g transform="translate(0,246.6)"><g id="Sa6_0"><circle class="m20" cx="20.6"/><text x="20.6">-20</text></g><g id="Sa6_1"><circle class="m35" cx="61.7"/><text x="61.7">-35</text></g><g id="Sa6_2"><circle class="m33" cx="102.8"/><text x="102.8">-33</text></g><g id="Sa6_3"><circle class="m8" cx="143.9"/><text x="143.9">-8</text></g><g id="Sa6_4"><circle class="m2" cx="185"/><text x="185">-2</text></g><g id="Sa6_5"><circle class="m1" cx="226.1"/><text x="226.1">-1</text></g><g id="Sa6_6"><circle class="z" cx="267.2"/><text x="267.2">0</text></g><g id="Sa6_7"><circle class="z" cx="308.3"/><text x="308.3">0</text></g><g id="Sa6_8"><circle class="z" cx="349.4"/><text x="349.4">0</text></g></g>
<g transform="translate(0,267.15)"><g id="Sb6_0"><circle class="p45" cx="0"/><text x="0">45</text></g><g id="Sb6_1"><circle class="p44" cx="41.1"/><text x="41.1">44</text></g><g id="Sb6_2"><circle class="p26" cx="82.2"/><text x="82.2">26</text></g><g id="Sb6_3"><circle class="p10" cx="123.3"/><text x="123.3">10</text></g><g id="Sb6_4"><circle class="p2" cx="164.4"/><text x="164.4">2</text></g><g id="Sb6_5"><circle class="p1" cx="205.5"/><text x="205.5">1</text></g><g id="Sb6_6"><circle class="z" cx="246.6"/><text x="246.6">0</text></g><g id="Sb6_7"><circle class="z" cx="287.7"/><text x="287.7">0</text></g><g id="Sb6_8"><circle class="z" cx="328.8"/><text x="328.8">0</text></g><g id="Sb6_9"><circle class="z" cx="369.9"/><text x="369.9">0</text></g></g>
<g transform="translate(0,287.7)"><g id="Sa7_0"><circle class="m19" cx="20.6"/><text x="20.6">-19</text></g><g id="Sa7_1"><circle class="m17" cx="61.7"/><text x="61.7">-17</text></g><g id="Sa7_2"><circle class="m17" cx="102.8"/><text x="102.8">-17</text></g><g id="Sa7_3"><circle class="z" cx="143.9"/><text x="143.9">0</text></g><g id="Sa7_4"><circle class="m1" cx="185"/><text x="185">-1</text></g><g id="Sa7_5"><circle class="z" cx="226.1"/><text x="226.1">0</text></g><g id="Sa7_6"><circle class="z" cx="267.2"/><text x="267.2">0</text></g><g id="Sa7_7"><circle class="z" cx="308.3"/><text x="308.3">0</text></g><g id="Sa7_8"><circle class="z" cx="349.4"/><text x="349.4">0</text></g></g>
<g transform="translate(0,308.25)"><g id="Sb7_0"><circle class="p25" cx="0"/><text x="0">25</text></g><g id="Sb7_1"><circle class="p19" cx="41.1"/><text x="41.1">19</text></g><g id="Sb7_2"><circle class="p9" cx="82.2"/><text x="82.2">9</text></g><g id="Sb7_3"><circle class="m1" cx="123.3"/><text x="123.3">-1</text></g><g id="Sb7_4"><circle class="p1" cx="164.4"/><text x="164.4">1</text></g><g id="Sb7_5"><circle class="z" cx="205.5"/><text x="205.5">0</text></g><g id="Sb7_6"><circle class="z" cx="246.6"/><text x="246.6">0</text></g><g id="Sb7_7"><circle class="z" cx="287.7"/><text x="287.7">0</text></g><g id="Sb7_8"><circle class="z" cx="328.8"/><text x="328.8">0</text></g><g id="Sb7_9"><circle class="z" cx="369.9"/><text x="369.9">0</text></g></g>
<g transform="translate(0,328.8)"><g id="Sa8_0"><circle class="m13" cx="20.6"/><text x="20.6">-13</text></g><g id="Sa8_1"><circle class="m7" cx="61.7"/><text x="61.7">-7</text></g><g id="Sa8_2"><circle class="m7" cx="102.8"/><text x="102.8">-7</text></g><g id="Sa8_3"><circle class="m2" cx="143.9"/><text x="143.9">-2</text></g><g id="Sa8_4"><circle class="z" cx="185"/><text x="185">0</text></g><g id="Sa8_5"><circle class="z" cx="226.1"/><text x="226.1">0</text></g><g id="Sa8_6"><circle class="z" cx="267.2"/><text x="267.2">0</text></g><g id="Sa8_7"><circle class="z" cx="308.3"/><text x="308.3">0</text></g><g id="Sa8_8"><circle class="z" cx="349.4"/><text x="349.4">0</text></g></g>
<g transform="translate(0,349.35)"><g id="Sb8_0"><circle class="p29" cx="0"/><text x="0">29</text></g><g id="Sb8_1"><circle class="p16" cx="41.1"/><text x="41.1">16</text></g><g id="Sb8_2"><circle class="p9" cx="82.2"/><text x="82.2">9</text></g><g id="Sb8_3"><circle class="p2" cx="123.3"/><text x="123.3">2</text></g><g id="Sb8_4"><circle class="z" cx="164.4"/><text x="164.4">0</text></g><g id="Sb8_5"><circle class="z" cx="205.5"/><text x="205.5">0</text></g><g id="Sb8_6"><circle class="z" cx="246.6"/><text x="246.6">0</text></g><g id="Sb8_7"><circle class="z" cx="287.7"/><text x="287.7">0</text></g><g id="Sb8_8"><circle class="z" cx="328.8"/><text x="328.8">0</text></g><g id="Sb8_9"><circle class="z" cx="369.9"/><text x="369.9">0</text></g></g>
<g transform="translate(0,369.9)"><g id="Sa9_0"><circle class="z" cx="20.6"/><text x="20.6">0</text></g><g id="Sa9_1"><circle class="z" cx="61.7"/><text x="61.7">0</text></g><g id="Sa9_2"><circle class="z" cx="102.8"/><text x="102.8">0</text></g><g id="Sa9_3"><circle class="z" cx="143.9"/><text x="143.9">0</text></g><g id="Sa9_4"><circle class="z" cx="185"/><text x="185">0</text></g><g id="Sa9_5"><circle class="z" cx="226.1"/><text x="226.1">0</text></g><g id="Sa9_6"><circle class="z" cx="267.2"/><text x="267.2">0</text></g><g id="Sa9_7"><circle class="z" cx="308.3"/><text x="308.3">0</text></g><g id="Sa9_8"><circle class="z" cx="349.4"/><text x="349.4">0</text></g></g>
</g>
</svg>
